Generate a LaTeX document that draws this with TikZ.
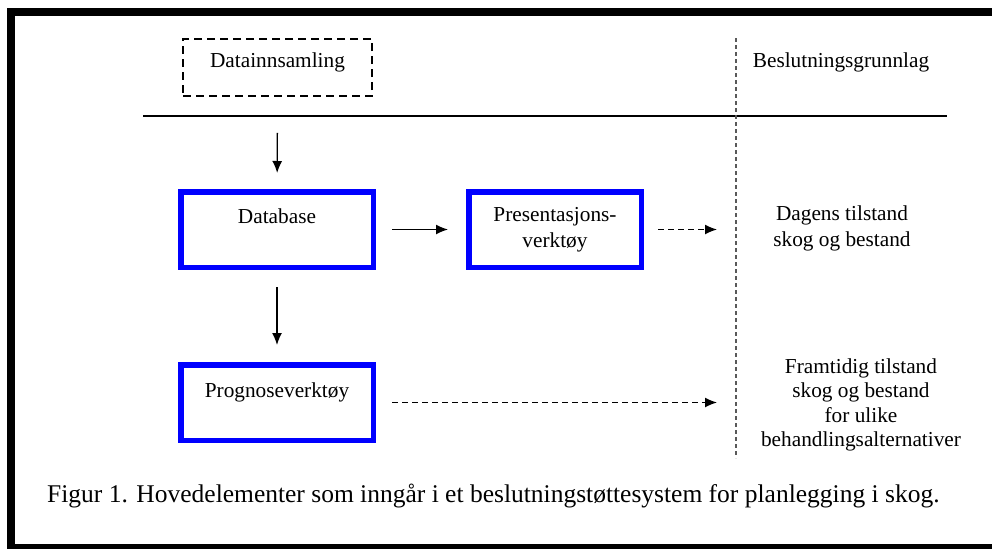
\documentclass[tikz,border=0pt]{standalone}
\usepackage{fontspec}
\setmainfont{Liberation Serif}
\usetikzlibrary{arrows.meta,positioning}
\tikzset{>={Latex[length=12pt,width=10pt]}}
\tikzset{
    blaboks/.style={draw=blue, line width=5.5pt, minimum width=192.5pt, minimum height=75.5pt, inner sep=0pt},
    stipleboks/.style={draw, line width=1.8pt, dash pattern=on 8pt off 5pt, minimum width=189pt, minimum height=57pt, inner sep=0pt},
    tekst/.style={font=\fontsize{21.3}{26}\selectfont, align=center, inner sep=0pt},
    pil/.style={->, line width=1.4pt},
    stiplet/.style={->, line width=1.4pt, dash pattern=on 6pt off 4pt}
}

\begin{document}
\begin{tikzpicture}[x=1pt, y=-1pt]
            \useasboundingbox (0,0) rectangle (992,549);
            \fill[black] (7,8) rectangle (992,16);
            \fill[black] (7,8) rectangle (15,549);
            \fill[black] (7,544) rectangle (992,549);

            \node[stipleboks] (innsamling) at (277.5,67.5) {};
            \node[tekst] (innsamlingtekst) at (277.5,62) {Datainnsamling};
            \node[tekst] (grunnlag) at (841,62) {Beslutningsgrunnlag};

            \coordinate (h1) at (143,116);
            \coordinate (h2) at (947,116);
            \draw[line width=1.3pt] (h1) -- (h2);
            \coordinate (s1) at (736,38);
            \coordinate (s2) at (736,458);
            \draw[line width=2.5pt, gray!70!black, dash pattern=on 4pt off 3pt] (s1) -- (s2);

            \node[blaboks] (db) at (277,229.5) {};
            \node[tekst] (dbtekst) at (277,216.5) {Database};
            \node[blaboks, minimum width=172.5pt] (pres) at (555,229.5) {};
            \node[tekst] (prestekst) at (555,229.5) {Presentasjons-\\verktøy};
            \node[blaboks] (prog) at (277,402.5) {};
            \node[tekst] (progtekst) at (277,392) {Prognoseverktøy};

            \node[tekst] (dagens) at (842,228) {Dagens tilstand\\skog og bestand};
            \node[tekst, font=\fontsize{21.3}{24.3}\selectfont] (framtidig) at (861,405) {Framtidig tilstand\\skog og bestand\\for ulike\\behandlingsalternativer};

            \coordinate (p1) at (717,229.5);
            \coordinate (p2) at (717,402.5);
            \draw[pil, shorten <=36pt, shorten >=16pt] (innsamling) -- (db);
            \draw[pil, shorten <=16pt, shorten >=18pt] (db) -- (pres);
            \draw[pil, shorten <=17pt, shorten >=17pt] (db) -- (prog);
            \draw[stiplet, shorten <=14pt] (pres) -- (p1);
            \draw[stiplet, shorten <=16pt] (prog) -- (p2);

            \node[font=\fontsize{25.5}{30}\selectfont, anchor=base west, inner sep=0pt] (figur) at (47,502) {Figur 1. Hovedelementer som inngår i et beslutningstøttesystem for planlegging i skog.};
        \end{tikzpicture}
\end{document}
